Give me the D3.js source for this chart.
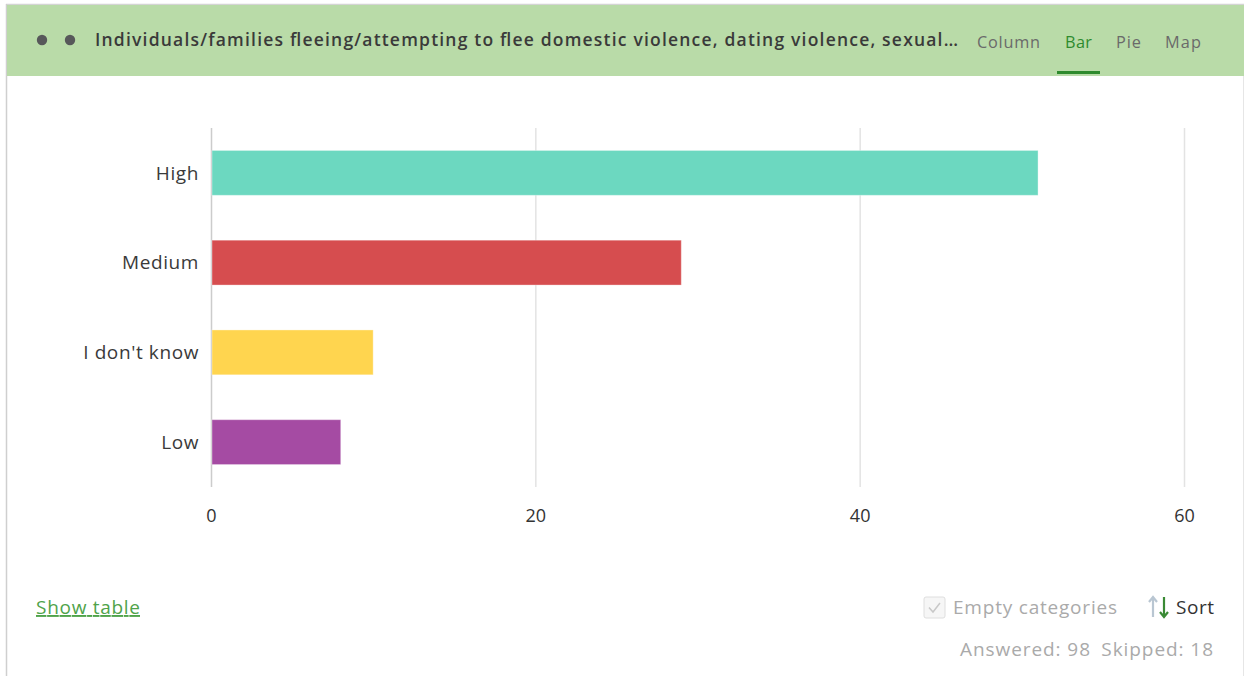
<!DOCTYPE html>
<html>
<head>
<meta charset="utf-8">
<script src="https://cdn.jsdelivr.net/npm/d3@7/dist/d3.min.js"></script>
<style>
  html, body { margin: 0; padding: 0; background: #fff; }
  svg { display: block; }
</style>
</head>
<body>
<svg id="chart" width="1244" height="676"></svg>
<script>
// Survey responses by priority rating
const categories = ["High", "Medium", "I don't know", "Low"];
const counts = [51, 29, 10, 8];
const barColors = ["#6cd8c0", "#d64d4f", "#ffd54f", "#a54ba3"];
const xTicks = [0, 20, 40, 60];
const title = "Individuals/families fleeing/attempting to flee domestic violence, dating violence, sexual\u2026";
const tabs = ["Column", "Bar", "Pie", "Map"];
const activeTab = "Bar";
const answered = 98;
const skipped = 18;

const svg = d3.select("#chart");
const W = 1244, H = 676;
const uiFont = "'Open Sans', 'Noto Sans', sans-serif";

// Card frame
svg.append("rect").attr("x", 6).attr("y", 4).attr("width", W - 6).attr("height", H - 4)
  .attr("fill", "#fff");
svg.append("line").attr("x1", 6).attr("x2", W).attr("y1", 4.5).attr("y2", 4.5)
  .attr("stroke", "#d4d4d4").attr("stroke-width", 1.5);
svg.append("line").attr("x1", 6.5).attr("x2", 6.5).attr("y1", 4).attr("y2", H)
  .attr("stroke", "#cfcfcf").attr("stroke-width", 1.5);
svg.append("line").attr("x1", W - 0.5).attr("x2", W - 0.5).attr("y1", 76).attr("y2", H)
  .attr("stroke", "#e6e6e6").attr("stroke-width", 1);

// Header band
svg.append("rect").attr("x", 7).attr("y", 5).attr("width", W - 7).attr("height", 71)
  .attr("fill", "#b9dba8");
svg.selectAll("circle.dot").data([42, 70]).join("circle")
  .attr("class", "dot").attr("cx", d => d).attr("cy", 40).attr("r", 5.2)
  .attr("fill", "#57585a");
svg.append("text").attr("x", 95).attr("y", 46)
  .attr("font-family", uiFont).attr("font-weight", 600).attr("font-size", 17.5)
  .attr("textLength", 863).attr("lengthAdjust", "spacing")
  .attr("fill", "#3a3a3a").text(title);

const tabX = [977, 1065, 1116, 1165];
const tabW = [63, 27, 25, 36];
svg.selectAll("text.tab").data(tabs).join("text")
  .attr("class", "tab")
  .attr("x", (d, i) => tabX[i]).attr("y", 48)
  .attr("font-family", uiFont).attr("font-size", 16.3)
  .attr("textLength", (d, i) => tabW[i]).attr("lengthAdjust", "spacing")
  .attr("fill", d => d === activeTab ? "#2e8b2e" : "#6a6a6a")
  .text(d => d);
svg.append("rect").attr("x", 1057).attr("y", 71).attr("width", 43).attr("height", 3)
  .attr("fill", "#2e8b2e");

// Plot area
const x = d3.scaleLinear().domain([0, 60]).range([211, 1184]);
const y = d3.scaleBand().domain(categories).range([128, 487])
  .paddingInner(0.5).paddingOuter(0.25);

// Vertical gridlines
svg.append("g").selectAll("line").data(xTicks).join("line")
  .attr("x1", d => x(d) + 0.5).attr("x2", d => x(d) + 0.5)
  .attr("y1", 128).attr("y2", 487)
  .attr("stroke", d => d === 0 ? "#cccccc" : "#e3e3e3")
  .attr("stroke-width", 1.5);

// Bars
svg.append("g").selectAll("rect").data(categories).join("rect")
  .attr("x", x(0) + 1)
  .attr("y", d => y(d))
  .attr("width", (d, i) => x(counts[i]) - x(0) - 1)
  .attr("height", y.bandwidth())
  .attr("fill", (d, i) => barColors[i])
  .attr("stroke", "rgba(255,255,255,0.35)")
  .attr("stroke-width", 1);

// Category axis labels
const yAxis = d3.axisLeft(y).tickSize(0).tickPadding(12);
const gy = svg.append("g").attr("transform", `translate(${x(0)},0)`).call(yAxis);
gy.select(".domain").remove();
gy.selectAll("text")
  .attr("font-family", uiFont).attr("font-size", 19)
  .attr("letter-spacing", 0.6)
  .attr("fill", "#3a3a3a").attr("dy", "0.35em");

// Value axis labels
const xAxis = d3.axisBottom(x).tickValues(xTicks).tickSize(0).tickPadding(0)
  .tickFormat(d3.format("d"));
const gx = svg.append("g").attr("transform", "translate(0,522)").call(xAxis);
gx.select(".domain").remove();
gx.selectAll("text")
  .attr("font-family", uiFont).attr("font-size", 18)
  .attr("fill", "#333").attr("dy", 0);

// Footer controls
svg.append("text").attr("x", 36).attr("y", 614)
  .attr("font-family", uiFont).attr("font-size", 19)
  .attr("textLength", 104).attr("lengthAdjust", "spacing")
  .attr("fill", "#4fa34a").attr("text-decoration", "underline")
  .text("Show table");

svg.append("rect").attr("x", 924).attr("y", 597).attr("width", 21).attr("height", 21)
  .attr("rx", 2).attr("fill", "#f6f6f6").attr("stroke", "#dedede");
svg.append("path").attr("d", "M929,607.5 L933,612 L940,603")
  .attr("fill", "none").attr("stroke", "#c8c8c8").attr("stroke-width", 1.5);
svg.append("text").attr("x", 953).attr("y", 614)
  .attr("font-family", uiFont).attr("font-size", 19)
  .attr("textLength", 164).attr("lengthAdjust", "spacing")
  .attr("fill", "#aaaaaa").text("Empty categories");

// Sort icon: up arrow (muted) and down arrow (green)
svg.append("path").attr("d", "M1153,617 L1153,598 M1149,602 L1153,597 L1157,602")
  .attr("fill", "none").attr("stroke", "#b9c6d2").attr("stroke-width", 2.2);
svg.append("path").attr("d", "M1164,597 L1164,616 M1160,612 L1164,617 L1168,612")
  .attr("fill", "none").attr("stroke", "#3a8a35").attr("stroke-width", 2.2);
svg.append("text").attr("x", 1176).attr("y", 614)
  .attr("font-family", uiFont).attr("font-size", 19)
  .attr("textLength", 38).attr("lengthAdjust", "spacing")
  .attr("fill", "#333").text("Sort");

svg.append("text").attr("x", 960).attr("y", 656)
  .attr("font-family", uiFont).attr("font-size", 19)
  .attr("textLength", 253).attr("lengthAdjust", "spacing")
  .attr("fill", "#aaaaaa")
  .text(`Answered: ${answered}\u2002Skipped: ${skipped}`);
</script>
</body>
</html>
